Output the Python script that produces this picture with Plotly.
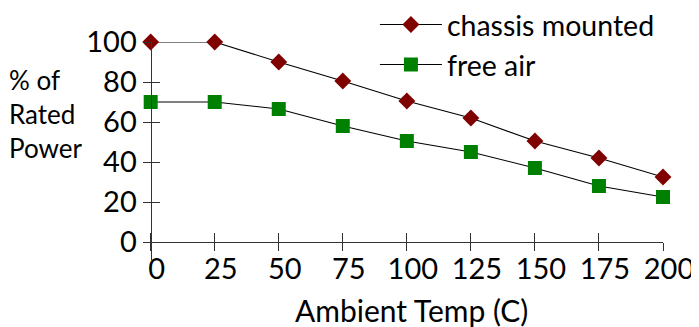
import plotly.graph_objects as go

temps = [0, 25, 50, 75, 100, 125, 150, 175, 200]
chassis_mounted = [100, 100, 90, 80.5, 70.5, 62, 50.5, 42, 32.5]
free_air = [70, 70, 66.5, 58, 50.5, 45, 37, 28, 22.5]

x_ticks = [0, 25, 50, 75, 100, 125, 150, 175, 200]
y_ticks = [0, 20, 40, 60, 80, 100]

FONT = "Lato"
X_RANGE = [-3, 200]
Y_RANGE = [-9, 100]

# axes cross at the origin, so place the axis lines at x=0 / y=0
x_pos = (0 - Y_RANGE[0]) / (Y_RANGE[1] - Y_RANGE[0])
y_pos = (0 - X_RANGE[0]) / (X_RANGE[1] - X_RANGE[0])

fig = go.Figure()
fig.add_trace(
    go.Scatter(
        x=temps,
        y=chassis_mounted,
        mode="lines+markers",
        name="chassis mounted",
        line=dict(color="black", width=1.1),
        marker=dict(symbol="diamond", size=13, color="#800000", line=dict(width=0)),
        cliponaxis=False,
    )
)
fig.add_trace(
    go.Scatter(
        x=temps,
        y=free_air,
        xaxis="x2",
        yaxis="y2",
        mode="lines+markers",
        name="free air",
        line=dict(color="black", width=1.1),
        marker=dict(symbol="square", size=14, color="#008000", line=dict(width=0)),
        cliponaxis=False,
    )
)

axis_common = dict(showgrid=False, zeroline=False, tickcolor="#333", tickwidth=1.2, automargin=False)

fig.update_layout(
    width=699,
    height=327,
    # the page body adds an 8px offset, so margins are shifted to compensate
    margin=dict(l=135, r=44, t=34, b=75, autoexpand=False),
    plot_bgcolor="white",
    paper_bgcolor="white",
    font=dict(family=FONT, color="black"),
    showlegend=True,
    legend=dict(
        x=0.446, y=1.195, xanchor="left", yanchor="top",
        font=dict(size=28.5, family=FONT), bgcolor="rgba(0,0,0,0)",
        itemwidth=62, tracegroupgap=0,
    ),
    xaxis=dict(
        range=X_RANGE, anchor="free", position=x_pos,
        tickvals=x_ticks, ticks="outside", ticklen=8,
        showline=True, linecolor="#333", linewidth=1.3,
        tickfont=dict(size=29, family=FONT),
        ticklabelshift=6, ticklabelstandoff=-7,
        **axis_common,
    ),
    yaxis=dict(
        range=Y_RANGE, anchor="free", position=y_pos,
        tickvals=y_ticks, ticks="outside", ticklen=8,
        showline=True, linecolor="#333", linewidth=1.3,
        tickfont=dict(size=29, family=FONT),
        **axis_common,
    ),
    xaxis2=dict(
        range=X_RANGE, overlaying="x", anchor="free", position=x_pos,
        tickvals=x_ticks, ticks="inside", ticklen=9, showticklabels=False,
        **axis_common,
    ),
    yaxis2=dict(
        range=Y_RANGE, overlaying="y", anchor="free", position=y_pos,
        tickvals=y_ticks, ticks="inside", ticklen=8, showticklabels=False,
        **axis_common,
    ),
)

fig.add_annotation(
    text="% of<br>Rated<br>Power",
    xref="paper", yref="paper",
    x=-0.262, y=0.67, xanchor="left", yanchor="middle",
    align="left", showarrow=False,
    font=dict(size=26, family=FONT, color="black"),
)
fig.add_annotation(
    text="Ambient Temp (C)",
    xref="paper", yref="paper",
    x=0.517, y=-0.229, xanchor="center", yanchor="middle",
    showarrow=False,
    font=dict(size=30, family=FONT, color="black"),
)

fig.write_html("out.html")
